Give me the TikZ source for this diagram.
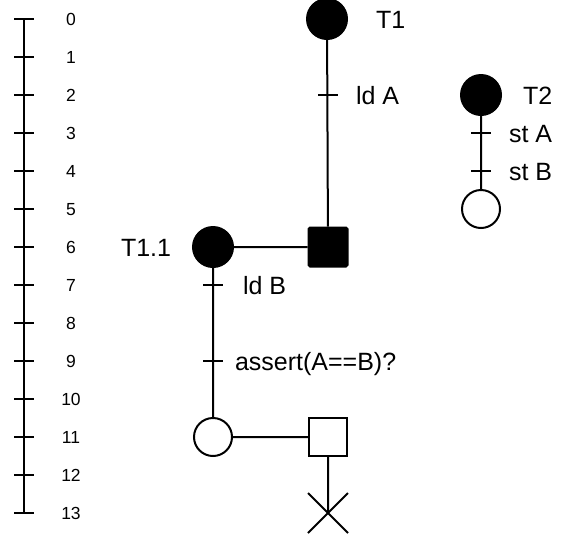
\documentclass[tikz,border=0pt]{standalone}
\usepackage{fontspec}
\setmainfont{Liberation Sans}
\usepackage{tikz}

\tikzset{
	thread/.style={draw,shape=circle,fill=black,minimum size=40pt,inner sep=0pt},
	threadend/.style={draw,shape=circle,fill=white,minimum size=38pt,inner sep=0pt},
	joinbox/.style={draw,shape=rectangle,fill=black,minimum size=39pt,inner sep=0pt,rounded corners=1.5pt},
	joinopen/.style={draw,shape=rectangle,fill=white,minimum size=38pt,inner sep=0pt},
	lbl/.style={font=\fontsize{25}{29}\selectfont,inner sep=0pt,text height=18pt,text depth=0pt},
	numlbl/.style={font=\fontsize{17.5}{20}\selectfont,inner sep=0pt,text height=12.5pt,text depth=0pt}
}

\begin{document}
\begin{tikzpicture}[x=1pt,y=-1pt,line width=2pt]
		\useasboundingbox (0,0) rectangle (572,539);

		% time axis
		\draw (24,19) -- (24,513);
		\foreach \t in {0,...,13} {
			\draw (14,19+38*\t) -- (34,19+38*\t);
			\node[numlbl] at (71,19+38*\t) {\t};
		}

		\path (327,19) node[thread] (t1) {}
		(328,247) node[joinbox] (j1) {}
		(213,247) node[thread] (t11) {}
		(213,437) node[threadend] (e11) {}
		(328,437) node[joinopen] (j2) {}
		(481,95) node[thread] (t2) {}
		(481,209) node[threadend] (e2) {};

		\coordinate (ldA) at (328,95);
		\coordinate (ldB) at (213,285);
		\coordinate (chk) at (213,361);
		\coordinate (stA) at (481,133);
		\coordinate (stB) at (481,171);
		\coordinate (x13) at (328,513);

		\draw (t1) -- (j1)
		(t11) -- (j1)
		(t11) -- (e11)
		(e11) -- (j2)
		(j2) -- (x13)
		(t2) -- (e2);

		% events
		\foreach \c in {ldA,ldB,chk,stA,stB}
			\draw ([xshift=-10pt]\c) -- ([xshift=10pt]\c);
		\draw ([shift={(-20pt,-20pt)}]x13) -- ([shift={(20pt,20pt)}]x13)
		([shift={(-20pt,20pt)}]x13) -- ([shift={(20pt,-20pt)}]x13);

		\node[lbl,anchor=west] (t1l) at (375,19) {T1};
		\node[lbl,anchor=west] (t2l) at (522,95) {T2};
		\node[lbl,anchor=west] (t11l) at (120,247) {T1.1};
		\node[lbl,anchor=west] (ldAl) at (355,95) {ld A};
		\node[lbl,anchor=west] (ldBl) at (242,285) {ld B};
		\node[lbl,anchor=west] (chkl) at (234,361) {assert(A==B)?};
		\node[lbl,anchor=west] (stAl) at (508,133) {st A};
		\node[lbl,anchor=west] (stBl) at (508,171) {st B};
	\end{tikzpicture}
\end{document}
